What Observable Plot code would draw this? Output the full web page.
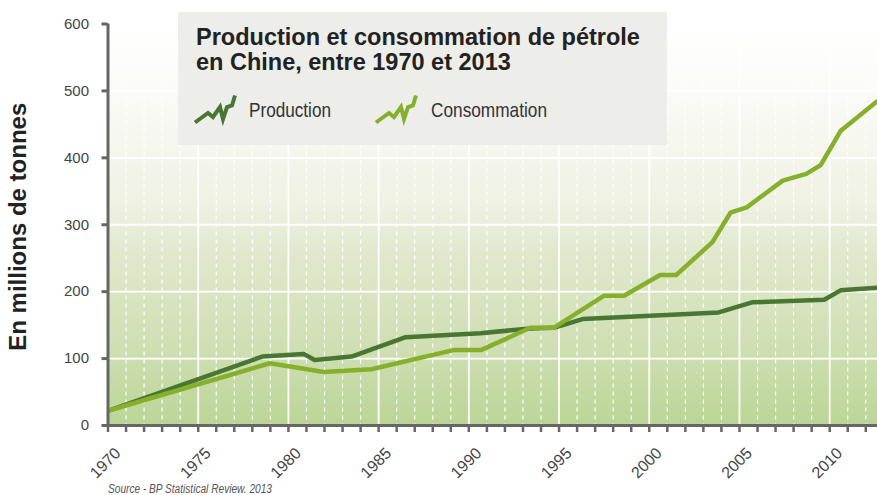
<!DOCTYPE html>
<html>
<head>
<meta charset="utf-8">
<script src="https://cdn.jsdelivr.net/npm/d3@7"></script>
<script src="https://cdn.jsdelivr.net/npm/@observablehq/plot@0.6"></script>
<style>
  html, body { margin: 0; padding: 0; background: #ffffff; overflow: hidden; }
  #wrap { position: relative; width: 877px; height: 495px; }
  #overlay { position: absolute; left: 0; top: 0; pointer-events: none; }
</style>
</head>
<body>
<div id="wrap"></div>
<script>
// ---- Data ----
const title1 = "Production et consommation de pétrole";
const title2 = "en Chine, entre 1970 et 2013";
const seriesNames = ["Production", "Consommation"];
const yLabel = "En millions de tonnes";
const sourceText = "Source - BP Statistical Review. 2013";

const prodYears  = [1970, 1978.55, 1980.85, 1981.45, 1983.5, 1986.5, 1990.65, 1993.4, 1994.7, 1996.3, 2003.85, 2005.7, 2009.7, 2010.6, 2012.6];
const prodValues = [22,   103,     107,     98,      103,    132,    138,     145,    146,    159,    169,     184,    188,    202,    206];

const consYears  = [1970, 1978.97, 1981.96, 1984.6, 1989.2, 1990.7, 1993.4, 1994.7, 1997.5, 1998.6, 2000.6, 2001.5, 2003.5, 2004.5, 2005.4, 2007.4, 2008.7, 2009.5, 2010.6, 2012.6];
const consValues = [22,   93,      80,      84,     113,    113,    146,    146,    194,    194,    225,    225,    274,    318,    326,    366,    376,    389,    440,    484];

const yTicks = [0, 100, 200, 300, 400, 500, 600];
const xTicks = d3.range(1970, 2013);
const xLabelTicks = xTicks.filter(d => d % 5 === 0);

const colors = {Production: "#4a7634", Consommation: "#86b02c"};

const prod = prodYears.map((y, i) => ({year: y, value: prodValues[i]}));
const cons = consYears.map((y, i) => ({year: y, value: consValues[i]}));

const narrow = "'Liberation Sans Narrow', 'Arial Narrow', 'Liberation Sans', Arial, sans-serif";

const defsMark = () => {
  const defs = d3.create("svg:defs");
  const g = defs.append("linearGradient").attr("id", "bgGrad")
    .attr("x1", 0).attr("y1", 0).attr("x2", 0).attr("y2", 1);
  [[0, "#ffffff"], [0.2, "#fafaf5"], [0.45, "#eff1e3"], [0.57, "#e1e8cd"], [0.8, "#cfdfb3"], [1, "#bbd596"]]
    .forEach(([o, c]) => g.append("stop").attr("offset", o).attr("stop-color", c));
  return defs.node();
};

const chart = Plot.plot({
  width: 877,
  height: 495,
  marginTop: 23.5,
  marginBottom: 70,
  marginLeft: 107.5,
  marginRight: 0,
  style: {fontFamily: narrow, background: "transparent", overflow: "visible"},
  x: {domain: [1970, 2012.65], axis: null},
  y: {domain: [0, 600], axis: null},
  marks: [
    defsMark,
    Plot.frame({fill: "url(#bgGrad)", stroke: null}),
    Plot.ruleX(xTicks.filter(d => d % 5 !== 0), {stroke: "white", strokeWidth: 1.2, strokeDasharray: "4,4"}),
    Plot.ruleX(xTicks.filter(d => d % 5 === 0 && d > 1970), {stroke: "white", strokeWidth: 1.8}),
    Plot.ruleY(yTicks.filter(d => d > 0), {stroke: "white", strokeWidth: 1.8}),
    Plot.line(prod, {x: "year", y: "value", stroke: colors.Production, strokeWidth: 4.5, clip: true}),
    Plot.line(cons, {x: "year", y: "value", stroke: colors.Consommation, strokeWidth: 4.5, clip: true}),
    Plot.ruleX([1970], {stroke: "#666", strokeWidth: 3}),
    Plot.ruleY([0], {stroke: "#666", strokeWidth: 3}),
    Plot.axisY({ticks: yTicks, tickSize: 6, tickPadding: 13, stroke: "#666", strokeWidth: 3, fill: "#444", fontSize: 15, label: null}),
    // tick marks only
    Plot.axisX({ticks: xTicks, tickSize: 7, tickFormat: () => "", stroke: "#666", strokeWidth: 2.5, label: null}),
    // labels only
    Plot.axisX({ticks: xLabelTicks, tickSize: 0, tickPadding: 25, dx: 10, tickRotate: -45, tickFormat: d => String(d),
                fill: "#444", fontSize: 16, label: null}),
    Plot.text([yLabel], {frameAnchor: "left", textAnchor: "middle", rotate: -90, dx: -90, dy: 2,
                fontSize: 24, fontWeight: "bold", fill: "#222", fontFamily: "'Liberation Sans', Arial, sans-serif"})
  ]
});

const wrap = document.getElementById("wrap");
wrap.appendChild(chart);

// ---- Overlay: title box, legend, source ----
const ov = d3.select(wrap).append("svg").attr("id", "overlay")
  .attr("width", 877).attr("height", 495);

ov.append("rect").attr("x", 178).attr("y", 12).attr("width", 489).attr("height", 133)
  .attr("fill", "#ebebe8").attr("fill-opacity", 0.92);

const sans = "'Liberation Sans', Arial, sans-serif";
ov.append("text").attr("x", 196).attr("y", 45).text(title1)
  .attr("font-family", sans).attr("font-weight", "bold").attr("font-size", 23.5).attr("fill", "#222");
ov.append("text").attr("x", 196).attr("y", 70).text(title2)
  .attr("font-family", sans).attr("font-weight", "bold").attr("font-size", 23.5).attr("fill", "#222");

const icon = [[0, 27], [13, 17.5], [18, 21.5], [25, 11.5], [28, 23.5], [32, 11.5], [37, 10], [40, 0]];
const legendX = [195, 376];
const legendTextX = [249, 431];
const legendTextW = [82, 116];
seriesNames.forEach((name, i) => {
  ov.append("polyline")
    .attr("points", icon.map(([dx, dy]) => `${legendX[i] + dx},${95.5 + dy}`).join(" "))
    .attr("fill", "none").attr("stroke", colors[name]).attr("stroke-width", 4)
    .attr("stroke-linejoin", "miter");
  ov.append("text").attr("x", legendTextX[i]).attr("y", 117).text(name)
    .attr("font-family", sans).attr("font-size", 21).attr("fill", "#333")
    .attr("textLength", legendTextW[i]).attr("lengthAdjust", "spacingAndGlyphs");
});

ov.append("text").attr("x", 108).attr("y", 493).text(sourceText)
  .attr("font-family", sans).attr("font-style", "italic").attr("font-size", 12).attr("fill", "#555")
  .attr("textLength", 164).attr("lengthAdjust", "spacingAndGlyphs");
</script>
</body>
</html>
